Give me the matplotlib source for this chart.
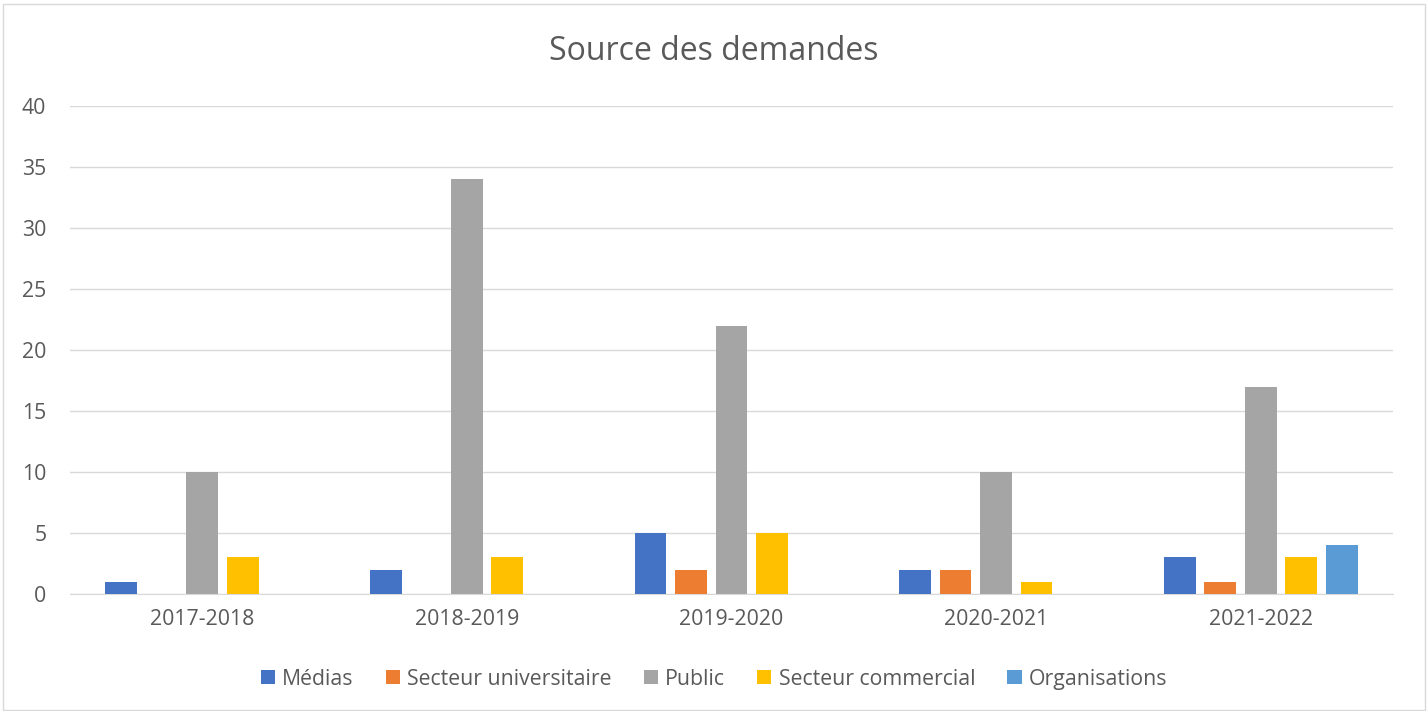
import matplotlib.pyplot as plt
import numpy as np
from matplotlib.patches import Rectangle

plt.rcParams["font.family"] = ["Open Sans", "DejaVu Sans"]

years = ["2017-2018", "2018-2019", "2019-2020", "2020-2021", "2021-2022"]
series_names = ["Médias", "Secteur universitaire", "Public", "Secteur commercial", "Organisations"]
medias = [1, 2, 5, 2, 3]
universitaire = [0, 0, 2, 2, 1]
public = [10, 34, 22, 10, 17]
commercial = [3, 3, 5, 1, 3]
organisations = [0, 0, 0, 0, 4]
colors = ["#4472C4", "#ED7D31", "#A5A5A5", "#FFC000", "#5B9BD5"]

fig = plt.figure(figsize=(14.28, 7.11), dpi=100)
ax = fig.add_axes([0.049, 0.1646, 0.9265, 0.6864])

x = np.arange(len(years))
step = 0.153
width = 0.12
all_series = [medias, universitaire, public, commercial, organisations]
for i, (name, vals, col) in enumerate(zip(series_names, all_series, colors)):
    ax.bar(x + (i - 2) * step, vals, width=width, color=col, label=name, zorder=3)

ax.set_xlim(-0.5, len(years) - 0.5)
ax.set_ylim(0, 40)
ax.set_yticks(range(0, 41, 5))
ax.set_xticks(x)
ax.set_xticklabels(years)
ax.tick_params(axis="both", length=0, labelsize=15.3, colors="#595959")
ax.tick_params(axis="x", pad=11)
ax.tick_params(axis="y", pad=17)
ax.grid(axis="y", color="#D9D9D9", linewidth=1, zorder=0)
for s in ["top", "right", "left"]:
    ax.spines[s].set_visible(False)
ax.spines["bottom"].set_color("#D9D9D9")

fig.text(0.5, 0.927, "Source des demandes", ha="center", va="center", fontsize=23, color="#595959")

leg = fig.legend(loc="center", bbox_to_anchor=(0.5, 0.045), ncol=5, frameon=False,
                 fontsize=15.3, handlelength=0.67, handleheight=0.67, handletextpad=0.35,
                 columnspacing=1.5)
for t in leg.get_texts():
    t.set_color("#595959")

fig.patches.append(Rectangle((0.002, 0.002), 0.996, 0.993, transform=fig.transFigure,
                             fill=False, edgecolor="#D9D9D9", linewidth=1))

fig.savefig("out.png", dpi=100)
